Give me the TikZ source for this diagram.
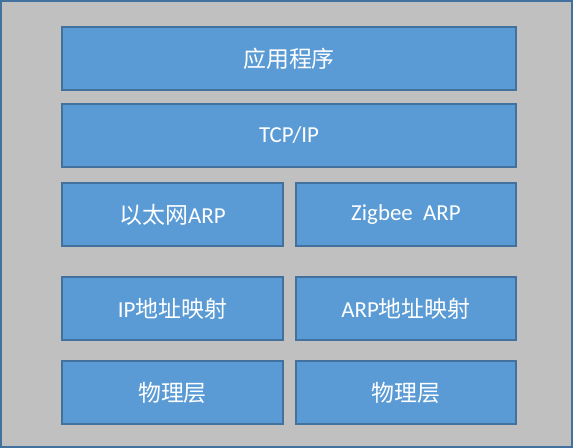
\documentclass[tikz,border=0pt]{standalone}
\usepackage{fontspec}
\setmainfont{Carlito}
\newfontfamily\cjk{Noto Sans CJK SC}
\definecolor{boxfill}{HTML}{5B9BD5}
\definecolor{boxline}{HTML}{41719C}
\definecolor{bggray}{HTML}{C0C0C0}
\tikzset{
  layer/.style={draw=boxline, fill=boxfill, line width=1.2bp},
  layertext/.style={text=white, font=\fontsize{23}{26}\selectfont},
}
\newcommand{\layerbox}[6]{% name, x1, y1, x2, y2, text
  \path[layer] (#2,#3) rectangle (#4,#5);
  \node[layertext] (#1) at ({(#2+#4)/2},{(#3+#5)/2}) {#6};
}
\begin{document}
\begin{tikzpicture}[x=1bp,y=-1bp]
\useasboundingbox (0,0) rectangle (573,448);
\path[draw=boxline, fill=bggray, line width=1.5bp] (1,1) rectangle (572,447);
\layerbox{app}{62}{27}{516}{90}{{\cjk 应用程序}}
\layerbox{tcp}{62}{104}{516}{167}{TCP/IP}
\layerbox{etharp}{62}{183}{283}{246}{{\cjk 以太网}ARP}
\layerbox{zigarp}{296}{183}{516}{246}{Zigbee\ \ ARP}
\layerbox{ipmap}{62}{277}{283}{340}{IP{\cjk 地址映射}}
\layerbox{arpmap}{296}{277}{516}{340}{ARP{\cjk 地址映射}}
\layerbox{phyl}{62}{361}{283}{424}{{\cjk 物理层}}
\layerbox{phyr}{296}{361}{516}{424}{{\cjk 物理层}}
\end{tikzpicture}
\end{document}
